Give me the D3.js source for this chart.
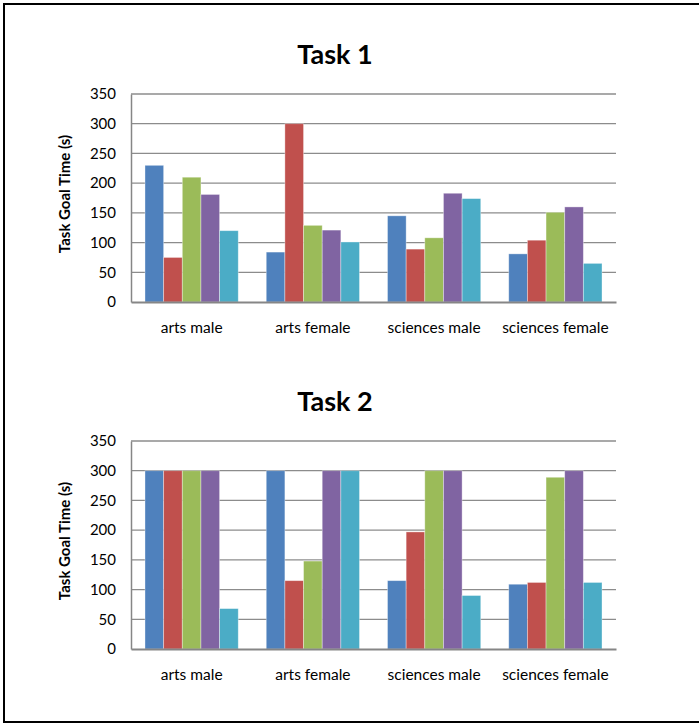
<!DOCTYPE html>
<html><head><meta charset="utf-8">
<script src="https://cdn.jsdelivr.net/npm/d3@7"></script>
<style>body{margin:0;background:#fff;} svg{display:block;}</style>
</head><body>
<svg id="c" width="699" height="724"></svg>
<script>
const categories = ["arts male", "arts female", "sciences male", "sciences female"];
const seriesNames = ["S1", "S2", "S3", "S4", "S5"];
const colors = ["#4F81BD", "#C0504D", "#9BBB59", "#8064A2", "#4BACC6"];
const yTicks = [0, 50, 100, 150, 200, 250, 300, 350];
// values[series][category]
const task1 = [
  [230, 84, 145, 81],
  [75, 300, 89, 104],
  [210, 129, 108, 151],
  [181, 121, 183, 160],
  [120, 101, 174, 65]
];
const task2 = [
  [300, 300, 115, 109],
  [300, 115, 197, 112],
  [300, 148, 300, 289],
  [300, 300, 300, 300],
  [68, 300, 90, 112]
];
const titles = ["Task 1", "Task 2"];
const yLabel = "Task Goal Time (s)";

const svg = d3.select("#c");
const font = "Lato, 'Open Sans', sans-serif";

svg.append("rect").attr("x", 4).attr("y", 4).attr("width", 760).attr("height", 718)
  .attr("fill", "none").attr("stroke", "#000").attr("stroke-width", 2);

function drawChart(data, title, top) {
  const x0 = 131, x1 = 616;
  const yTop = top, yBot = top + 208;
  const x = d3.scaleBand().domain(categories).range([x0, x1]).paddingInner(0).paddingOuter(0);
  const xs = d3.scaleBand().domain(seriesNames).range([0, x.bandwidth()]).paddingInner(0).paddingOuter(0.75);
  const y = d3.scaleLinear().domain([0, 350]).range([yBot, yTop]);
  const g = svg.append("g");

  g.append("text").attr("x", 335).attr("y", top - 30).attr("text-anchor", "middle")
    .attr("font-family", font).attr("font-weight", "bold").attr("font-size", 27).attr("fill", "#000")
    .text(title);

  // gridlines
  g.selectAll("line.grid").data(yTicks.filter(d => d > 0)).join("line")
    .attr("x1", x0).attr("x2", x1).attr("y1", d => y(d)).attr("y2", d => y(d))
    .attr("stroke", "#8c8c8c").attr("stroke-width", 1.3);

  // y axis
  const ya = d3.axisLeft(y).tickValues(yTicks).tickSize(0).tickPadding(15);
  const yg = g.append("g").attr("transform", `translate(${x0},0)`).call(ya);
  yg.select(".domain").attr("stroke", "#868686").attr("stroke-width", 1.5);
  yg.selectAll("text").attr("font-family", font).attr("font-size", 15).attr("fill", "#000");

  // bars
  data.forEach((vals, si) => {
    g.selectAll(null).data(vals.map((v, ci) => ({v, c: categories[ci]}))).join("rect")
      .attr("x", d => x(d.c) + xs(seriesNames[si]))
      .attr("y", d => y(d.v))
      .attr("width", xs.bandwidth())
      .attr("height", d => y(0) - y(d.v))
      .attr("fill", colors[si])
      .attr("stroke", "rgba(255,255,255,0.45)").attr("stroke-width", 0.8);
  });

  // x axis
  const xa = d3.axisBottom(x).tickSize(0).tickPadding(20);
  const xg = g.append("g").attr("transform", `translate(0,${yBot})`).call(xa);
  xg.select(".domain").attr("stroke", "#868686").attr("stroke-width", 2);
  xg.selectAll("text").attr("font-family", font).attr("font-size", 15.5).attr("fill", "#000");

  g.append("text").attr("transform", `translate(70,${(yTop + yBot) / 2 - 4}) rotate(-90)`)
    .attr("text-anchor", "middle").attr("font-family", font).attr("font-weight", "bold")
    .attr("font-size", 15).attr("fill", "#000").text(yLabel);
}

drawChart(task1, titles[0], 94);
drawChart(task2, titles[1], 441);
</script>
</body></html>
